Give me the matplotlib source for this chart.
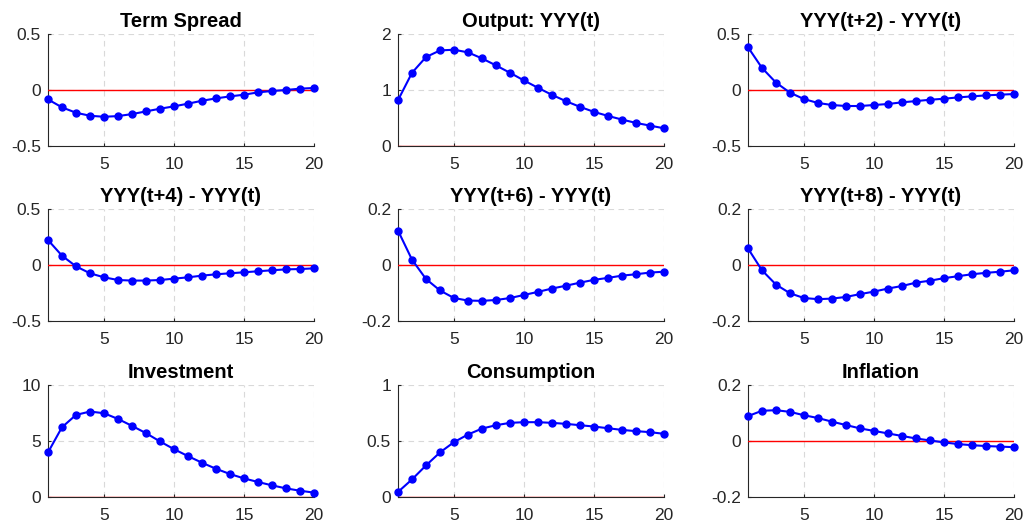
import matplotlib
matplotlib.use("Agg")
import matplotlib.pyplot as plt
from matplotlib.ticker import FuncFormatter
import numpy as np

plt.rcParams['font.family'] = ['Liberation Sans', 'DejaVu Sans']
plt.rcParams['axes.unicode_minus'] = False

horizon = list(range(1, 21))

titles = ["Term Spread", "Output: YYY(t)", "YYY(t+2) - YYY(t)",
          "YYY(t+4) - YYY(t)", "YYY(t+6) - YYY(t)", "YYY(t+8) - YYY(t)",
          "Investment", "Consumption", "Inflation"]

term_spread = [-0.084, -0.155, -0.203, -0.230, -0.239, -0.233, -0.215, -0.191, -0.167, -0.146,
               -0.122, -0.096, -0.075, -0.057, -0.042, -0.021, -0.009, 0.000, 0.012, 0.018]
output = [0.818, 1.307, 1.588, 1.707, 1.719, 1.672, 1.564, 1.439, 1.307, 1.170,
          1.039, 0.913, 0.800, 0.699, 0.609, 0.537, 0.472, 0.412, 0.364, 0.316]
yyy_t2 = [0.382, 0.197, 0.066, -0.024, -0.081, -0.116, -0.134, -0.143, -0.143, -0.134,
          -0.125, -0.110, -0.099, -0.087, -0.078, -0.066, -0.057, -0.048, -0.042, -0.036]
yyy_t4 = [0.223, 0.083, -0.012, -0.074, -0.110, -0.134, -0.139, -0.139, -0.134, -0.122,
          -0.110, -0.095, -0.083, -0.074, -0.065, -0.056, -0.047, -0.039, -0.036, -0.030]
yyy_t6 = [0.123, 0.019, -0.050, -0.091, -0.118, -0.127, -0.128, -0.125, -0.118, -0.107,
          -0.096, -0.084, -0.074, -0.063, -0.053, -0.046, -0.038, -0.033, -0.027, -0.024]
yyy_t8 = [0.059, -0.019, -0.070, -0.101, -0.118, -0.122, -0.120, -0.114, -0.104, -0.095,
          -0.084, -0.075, -0.063, -0.056, -0.047, -0.040, -0.033, -0.028, -0.024, -0.019]
investment = [3.98, 6.23, 7.33, 7.63, 7.48, 6.97, 6.35, 5.70, 4.96, 4.27,
              3.65, 3.06, 2.52, 2.05, 1.66, 1.34, 1.04, 0.77, 0.56, 0.39]
consumption = [0.045, 0.157, 0.282, 0.398, 0.490, 0.558, 0.611, 0.641, 0.662, 0.668,
               0.668, 0.662, 0.653, 0.641, 0.629, 0.614, 0.599, 0.588, 0.579, 0.564]
inflation = [0.089, 0.108, 0.110, 0.104, 0.092, 0.082, 0.069, 0.057, 0.045, 0.036,
             0.027, 0.018, 0.009, 0.002, -0.005, -0.011, -0.015, -0.018, -0.020, -0.022]

series = [term_spread, output, yyy_t2, yyy_t4, yyy_t6, yyy_t8, investment, consumption, inflation]
ylims = [(-0.5, 0.5), (0, 2), (-0.5, 0.5), (-0.5, 0.5), (-0.2, 0.2), (-0.2, 0.2),
         (0, 10), (0, 1), (-0.2, 0.2)]
yticks = [[-0.5, 0, 0.5], [0, 1, 2], [-0.5, 0, 0.5], [-0.5, 0, 0.5], [-0.2, 0, 0.2],
          [-0.2, 0, 0.2], [0, 5, 10], [0, 0.5, 1], [-0.2, 0, 0.2]]
xticks = [5, 10, 15, 20]

W, H = 1026, 527
fig = plt.figure(figsize=(W / 100, H / 100), dpi=100)

lefts = [48, 398, 748]
tops = [34, 209, 385]
aw, ah = 266, 112

fmt = FuncFormatter(lambda v, p: "%g" % v)

for i in range(9):
    r, c = divmod(i, 3)
    ax = fig.add_axes([lefts[c] / W, 1 - (tops[r] + ah) / H, aw / W, ah / H])
    ax.set_xlim(1, 20)
    ax.set_ylim(*ylims[i])
    ax.set_xticks(xticks)
    ax.set_yticks(yticks[i])
    ax.yaxis.set_major_formatter(fmt)
    ax.grid(True, linestyle=(0, (5, 4)), color='#d9d9d9', linewidth=0.8)
    ax.set_axisbelow(True)
    for s in ['top', 'right']:
        ax.spines[s].set_visible(False)
    for s in ['left', 'bottom']:
        ax.spines[s].set_color('#262626')
        ax.spines[s].set_linewidth(0.8)
    ax.tick_params(direction='in', length=2.5, width=0.8, colors='#262626', labelsize=12.5)
    ax.tick_params(axis='x', pad=8)
    ax.tick_params(axis='y', pad=5)
    ax.axhline(0, color='red', linewidth=1.0, zorder=3)
    ax.plot(horizon, series[i], color='blue', linewidth=1.5, marker='o',
            markersize=5, zorder=4, clip_on=False)
    ax.set_title(titles[i], fontsize=14.5, fontweight='bold', pad=5)

fig.savefig("out.png", dpi=100)
